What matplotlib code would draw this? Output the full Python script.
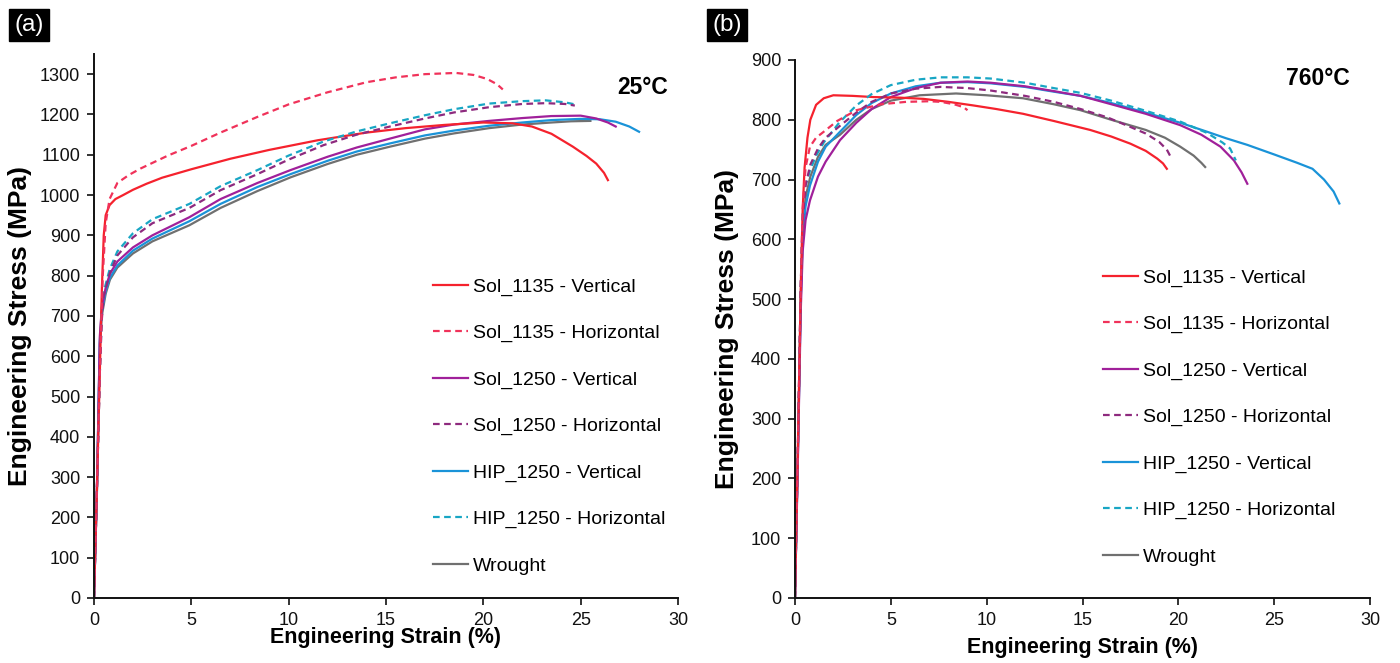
import matplotlib

matplotlib.use("Agg")

import matplotlib.pyplot as plt

plt.rcParams["font.family"] = ["Liberation Sans", "DejaVu Sans"]

# ---- (a) 25 C ----
a_s1135v_x = [0, 0.15, 0.3, 0.4, 0.5, 0.6, 0.8, 1.1, 1.5, 2.0, 2.7, 3.5, 5, 7, 9, 11.5, 14, 16, 18, 20, 21.5, 22.5, 23.5, 24.6, 25.3, 25.8, 26.2, 26.4]
a_s1135v_y = [0, 270, 560, 760, 900, 950, 975, 990, 1000, 1013, 1028, 1043, 1064, 1090, 1112, 1136, 1155, 1166, 1174, 1180, 1178, 1170, 1152, 1120, 1097, 1078, 1055, 1037]

a_s1135h_x = [0, 0.15, 0.3, 0.45, 0.6, 0.8, 1.2, 1.8, 2.4, 3.8, 5, 6.5, 8.4, 10, 12, 14, 15.5, 17, 18.6, 19.5, 20.2, 20.7, 21.0]
a_s1135h_y = [0, 270, 560, 800, 930, 990, 1030, 1050, 1066, 1098, 1122, 1155, 1194, 1225, 1255, 1280, 1292, 1300, 1303, 1298, 1288, 1275, 1262]

a_s1250v_x = [0, 0.15, 0.3, 0.4, 0.6, 0.82, 1.2, 2, 3, 4.9, 6.5, 8.4, 10.1, 12, 13.5, 15.2, 17, 18.5, 20.3, 22, 23.5, 25, 25.8, 26.4, 26.8]
a_s1250v_y = [0, 270, 650, 720, 770, 805, 835, 870, 900, 945, 990, 1030, 1062, 1095, 1118, 1140, 1163, 1175, 1184, 1191, 1196, 1197, 1190, 1180, 1170]

a_s1250h_x = [0, 0.15, 0.3, 0.4, 0.5, 0.8, 1.2, 2, 3, 4.9, 6.5, 8.4, 10, 11.8, 13.5, 15.2, 17, 18.5, 20.3, 22, 23.2, 24.2, 24.7]
a_s1250h_y = [0, 270, 560, 690, 750, 805, 850, 895, 930, 968, 1012, 1052, 1088, 1124, 1150, 1170, 1190, 1205, 1218, 1226, 1228, 1226, 1222]

a_hip1250v_x = [0, 0.15, 0.3, 0.4, 0.6, 0.82, 1.2, 2, 3, 4.9, 6.5, 8.4, 10.1, 12, 13.5, 15.2, 17, 18.5, 20.3, 22, 23.5, 25, 26, 26.8, 27.5, 28.0]
a_hip1250v_y = [0, 270, 640, 710, 762, 795, 825, 862, 892, 935, 978, 1020, 1052, 1085, 1108, 1128, 1148, 1160, 1172, 1180, 1186, 1189, 1188, 1182, 1170, 1157]

a_hip1250h_x = [0, 0.15, 0.3, 0.4, 0.5, 0.8, 1.2, 2, 3, 4.9, 6.5, 8.4, 10, 11.8, 13.5, 15.2, 17, 18.5, 20.3, 22, 23.2, 24.2, 24.7]
a_hip1250h_y = [0, 270, 560, 700, 760, 815, 860, 905, 940, 978, 1022, 1062, 1098, 1133, 1158, 1178, 1198, 1213, 1227, 1233, 1235, 1230, 1225]

a_wrought_x = [0, 0.15, 0.3, 0.4, 0.6, 0.82, 1.2, 2, 3, 4.9, 6.5, 8.4, 10.1, 12, 13.5, 15.2, 17, 18.5, 20.3, 22, 23.5, 24.5, 25.5]
a_wrought_y = [0, 260, 630, 700, 755, 790, 820, 855, 885, 925, 968, 1010, 1044, 1077, 1100, 1120, 1140, 1153, 1166, 1175, 1180, 1183, 1184]

# ---- (b) 760 C ----
b_s1135v_x = [0, 0.15, 0.3, 0.4, 0.5, 0.65, 0.8, 1.1, 1.5, 2.0, 3, 4.1, 5.5, 6.7, 8, 9.3, 10.5, 11.9, 13.5, 15.4, 16.5, 17.5, 18.3, 18.9, 19.2, 19.4]
b_s1135v_y = [0, 250, 520, 650, 720, 770, 800, 825, 836, 841, 840, 838, 837, 835, 830, 824, 818, 810, 798, 783, 772, 760, 748, 735, 727, 718]

b_s1135h_x = [0, 0.15, 0.3, 0.4, 0.55, 0.78, 1.1, 1.5, 2.2, 3.2, 4.5, 5.8, 7, 7.6, 8.3, 8.8, 9.0]
b_s1135h_y = [0, 250, 520, 650, 720, 755, 770, 780, 798, 816, 826, 830, 831, 830, 826, 821, 816]

b_s1250v_x = [0, 0.15, 0.3, 0.4, 0.55, 0.78, 1.2, 1.6, 2.35, 3.2, 4, 5, 6.3, 7.6, 9, 10.2, 12, 13.5, 14.9, 16.5, 18.3, 20.1, 21.2, 22.2, 22.9, 23.3, 23.6]
b_s1250v_y = [0, 230, 480, 580, 632, 665, 705, 730, 766, 795, 818, 838, 853, 862, 864, 862, 856, 848, 840, 826, 810, 791, 775, 755, 732, 712, 693]

b_s1250h_x = [0, 0.15, 0.3, 0.4, 0.55, 0.8, 1.2, 1.6, 2.35, 3.2, 4, 5, 6.3, 7.6, 9, 10.2, 12, 13.5, 14.9, 16.3, 17.5, 18.3, 19.0, 19.4, 19.6]
b_s1250h_y = [0, 250, 520, 630, 690, 725, 752, 770, 790, 812, 830, 844, 852, 855, 853, 849, 840, 830, 818, 804, 788, 777, 763, 750, 738]

b_hip1250v_x = [0, 0.15, 0.3, 0.4, 0.55, 0.78, 1.2, 1.6, 2.35, 3.2, 4, 5, 6.3, 7.6, 9, 10.2, 12, 13.5, 14.9, 16.5, 18.3, 20.1, 21.5, 22.5, 23.6, 25, 26.2, 27, 27.6, 28.1, 28.4]
b_hip1250v_y = [0, 240, 500, 600, 655, 690, 730, 755, 780, 808, 828, 844, 856, 862, 863, 861, 855, 847, 840, 828, 812, 795, 780, 769, 758, 742, 728, 718, 700, 680, 660]

b_hip1250h_x = [0, 0.15, 0.3, 0.4, 0.55, 0.78, 1.1, 1.5, 2.3, 3.2, 4, 5, 6.3, 7.6, 9, 10.2, 12, 13.5, 14.9, 16.5, 18.3, 20.1, 21.5, 22.3, 22.7, 23.0]
b_hip1250h_y = [0, 250, 520, 640, 690, 715, 740, 762, 795, 824, 843, 858, 867, 871, 871, 869, 862, 853, 845, 832, 815, 797, 778, 762, 752, 732]

b_wrought_x = [0, 0.15, 0.3, 0.4, 0.55, 0.8, 1.2, 1.6, 2.35, 3.2, 4, 5, 6.5, 8.4, 10, 11.9, 13.5, 14.9, 16.5, 18.3, 19.3, 20.1, 20.8, 21.2, 21.4]
b_wrought_y = [0, 240, 500, 610, 670, 705, 738, 758, 775, 800, 818, 832, 841, 844, 841, 836, 826, 816, 800, 783, 770, 755, 740, 728, 721]

labels = ["Sol_1135 - Vertical", "Sol_1135 - Horizontal", "Sol_1250 - Vertical",
          "Sol_1250 - Horizontal", "HIP_1250 - Vertical", "HIP_1250 - Horizontal", "Wrought"]
colors = ["#f5222d", "#f0325a", "#a0209a", "#8e2a7e", "#1a93d8", "#18a6c4", "#707070"]
styles = ["-", (0, (3, 2)), "-", (0, (3, 2)), "-", (0, (3, 2)), "-"]

panel_a = [(a_s1135v_x, a_s1135v_y), (a_s1135h_x, a_s1135h_y), (a_s1250v_x, a_s1250v_y),
           (a_s1250h_x, a_s1250h_y), (a_hip1250v_x, a_hip1250v_y), (a_hip1250h_x, a_hip1250h_y),
           (a_wrought_x, a_wrought_y)]
panel_b = [(b_s1135v_x, b_s1135v_y), (b_s1135h_x, b_s1135h_y), (b_s1250v_x, b_s1250v_y),
           (b_s1250h_x, b_s1250h_y), (b_hip1250v_x, b_hip1250v_y), (b_hip1250h_x, b_hip1250h_y),
           (b_wrought_x, b_wrought_y)]

W, H = 1400, 663
fig = plt.figure(figsize=(W / 100, H / 100), dpi=100)
ax_a = fig.add_axes([94 / W, 1 - 598 / H, (678 - 94) / W, (598 - 54) / H])
ax_b = fig.add_axes([795 / W, 1 - 598 / H, (1370 - 795) / W, (598 - 60) / H])

# draw order: wrought at back, then verticals, then dashed on top
order = [6, 4, 2, 0, 5, 3, 1]


def draw_panel(ax, data, ymax, temp, temp_xy, xlab_y, ylab_x, legend_xy):
    lines = [None] * 7
    for i in order:
        x, y = data[i]
        (lines[i],) = ax.plot(x, y, color=colors[i], linestyle=styles[i], linewidth=1.6)

    ax.set_xlim(0, 30)
    ax.set_ylim(0, ymax)
    ax.set_xticks(range(0, 31, 5))
    ax.set_yticks(range(0, ymax + 1, 100))
    for side in ("top", "right"):
        ax.spines[side].set_visible(False)
    for side in ("left", "bottom"):
        ax.spines[side].set_linewidth(1.4)
        ax.spines[side].set_color("#111111")
    ax.tick_params(direction="out", length=5, width=1.2, labelsize=13, colors="#111111", pad=5)
    ax.set_xlabel("Engineering Strain (%)", fontsize=15.5, fontweight="bold")
    ax.set_ylabel("Engineering Stress (MPa)", fontsize=19, fontweight="bold")
    ax.xaxis.set_label_coords(0.5, xlab_y)
    ax.yaxis.set_label_coords(ylab_x, 0.5)
    ax.text(temp_xy[0], temp_xy[1], temp, transform=ax.transAxes, ha="right", va="center",
            fontsize=16.5, fontweight="bold")
    ax.legend(lines, labels, loc="upper left", bbox_to_anchor=legend_xy,
              bbox_transform=fig.transFigure, frameon=False, fontsize=14, handlelength=1.8,
              handletextpad=0.25, labelspacing=1.48, borderaxespad=0)


draw_panel(ax_a, panel_a, 1350, "25°C", (0.983, 0.939), -0.053, -0.106,
           (425 / W, 1 - 270 / H))
draw_panel(ax_b, panel_b, 900, "760°C", (0.965, 0.966), -0.072, -0.097,
           (1095 / W, 1 - 261 / H))

for lab, xc in (("(a)", 29 / W), ("(b)", 727 / W)):
    fig.text(xc, 1 - 25 / H, lab, color="white", fontsize=17.5, ha="center", va="center",
             bbox=dict(boxstyle="square,pad=0.2", facecolor="black", edgecolor="black"))

fig.savefig("out.png", dpi=100)
